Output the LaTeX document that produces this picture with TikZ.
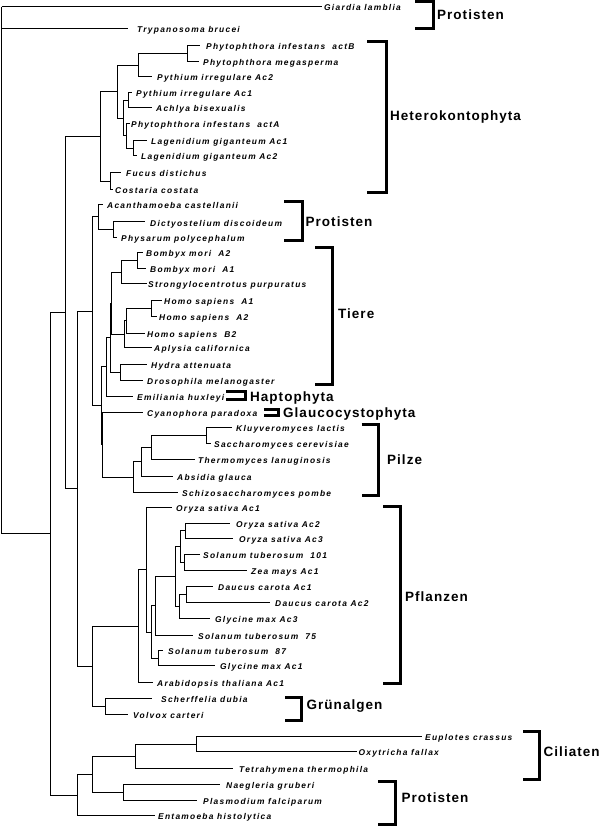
\documentclass[tikz,border=0pt]{standalone}
\usepackage{fontspec}
\setmainfont{Liberation Sans}
\newfontfamily\spfont[LetterSpace=15]{Liberation Sans}
\newfontfamily\grpfont[LetterSpace=7.5]{Liberation Sans}
\newcommand{\lf}[5]{\coordinate (L#1) at (#2,#4); \node[sp] (T#1) at (#3,#4+4) {#5};}
\begin{document}
\begin{tikzpicture}[x=1pt,y=-1pt,
  sp/.style={anchor=base west,inner sep=0pt,font=\fontsize{8.4}{9}\spfont\bfseries\itshape},
  grp/.style={anchor=base west,inner sep=0pt,font=\fontsize{13.5}{16}\grpfont\bfseries},
  br/.style={line width=1pt},
  brk/.style={line width=3pt,line join=miter}]
\fill[white] (0,0) rectangle (601,826);
\useasboundingbox (0,0) rectangle (601,826);
% internal nodes
\coordinate (root) at (1.5,7);
\coordinate (A) at (50,533);
\coordinate (B) at (65,312.8);
\coordinate (J) at (77,795);
\coordinate (G) at (100,136.75);
\coordinate (C) at (77,488.9);
\coordinate (H1) at (117,92);
\coordinate (FC) at (110,181.5);
\coordinate (P1) at (138,65.5);
\coordinate (PP) at (187,54);
\coordinate (H2) at (123.5,118.3);
\coordinate (PA) at (128.5,100.5);
\coordinate (AL) at (126.5,136);
\coordinate (LG) at (133.5,148.25);
\coordinate (D) at (92,311.3);
\coordinate (PG) at (92,666);
\coordinate (E) at (98,217);
\coordinate (DP) at (113,229.5);
\coordinate (F) at (101.5,405.6);
\coordinate (Tp) at (106,366.75);
\coordinate (F2) at (102.5,444.5);
\coordinate (TI1) at (110,337.5);
\coordinate (TI2) at (111,303);
\coordinate (BS) at (121.7,272);
\coordinate (BB) at (137.7,260);
\coordinate (HA1) at (124,334);
\coordinate (HAA) at (126,320.5);
\coordinate (HA) at (151.7,308);
\coordinate (HD) at (120,372.25);
\coordinate (PZ) at (133.3,477);
\coordinate (KSTA) at (141.7,461.5);
\coordinate (KST) at (151.7,447);
\coordinate (KS) at (206.7,435);
\coordinate (PF) at (138.3,626);
\coordinate (PF1) at (146.7,569.5);
\coordinate (N2) at (151.7,632);
\coordinate (N1) at (155,605.5);
\coordinate (OSZDG) at (175,576);
\coordinate (OSZ) at (180,546.25);
\coordinate (OA) at (185,530.5);
\coordinate (SZ) at (184.5,562.25);
\coordinate (DG) at (179.3,606);
\coordinate (DC) at (186.7,594.25);
\coordinate (SG) at (158.3,658);
\coordinate (SV) at (105,706);
\coordinate (K) at (92,774.5);
\coordinate (CIL) at (135,756.7);
\coordinate (EO) at (196.7,744.2);
\coordinate (NP) at (123.3,792.2);
% leaves
\lf{gia}{322}{324}{7}{Giardia lamblia}
\lf{try}{128}{137}{29}{Trypanosoma brucei}
\lf{actB}{200}{206}{46}{Phytophthora infestans~ actB}
\lf{mega}{199}{203}{62}{Phytophthora megasperma}
\lf{pyAc2}{152}{157}{77}{Pythium irregulare Ac2}
\lf{pyAc1}{132}{136}{93}{Pythium irregulare Ac1}
\lf{ach}{152}{156}{108}{Achlya bisexualis}
\lf{actA}{130}{131}{124}{Phytophthora infestans~ actA}
\lf{lag1}{147}{151}{140.5}{Lagenidium giganteum Ac1}
\lf{lag2}{137}{141}{156}{Lagenidium giganteum Ac2}
\lf{fuc}{121}{126}{173}{Fucus distichus}
\lf{cos}{113}{115}{190}{Costaria costata}
\lf{aca}{103}{107}{205}{Acanthamoeba castellanii}
\lf{dic}{145}{150}{222}{Dictyostelium discoideum}
\lf{phy}{117}{121}{237}{Physarum polycephalum}
\lf{bomA2}{143}{146}{252}{Bombyx mori~ A2}
\lf{bomA1}{146}{150}{268}{Bombyx mori~ A1}
\lf{str}{147}{148}{283}{Strongylocentrotus purpuratus}
\lf{homA1}{162}{164}{300}{Homo sapiens~ A1}
\lf{homA2}{157}{159}{316}{Homo sapiens~ A2}
\lf{homB2}{145}{147}{333}{Homo sapiens~ B2}
\lf{apl}{152}{154}{347.5}{Aplysia californica}
\lf{hyd}{146.7}{151}{364.5}{Hydra attenuata}
\lf{dro}{143}{147}{380}{Drosophila melanogaster}
\lf{emi}{133.3}{137}{396}{Emiliania huxleyi}
\lf{cya}{143.3}{147}{412}{Cyanophora paradoxa}
\lf{klu}{232}{236}{427}{Kluyveromyces lactis}
\lf{sac}{210.5}{214}{443}{Saccharomyces cerevisiae}
\lf{the}{195}{198}{459}{Thermomyces lanuginosis}
\lf{abs}{173}{177}{476}{Absidia glauca}
\lf{sch}{178}{182}{492}{Schizosaccharomyces pombe}
\lf{ory1}{171.7}{176}{507}{Oryza sativa Ac1}
\lf{ory2}{230}{236}{523}{Oryza sativa Ac2}
\lf{ory3}{233}{239}{538}{Oryza sativa Ac3}
\lf{solA}{200}{203}{554}{Solanum tuberosum~ 101}
\lf{zea}{246.7}{251}{570.5}{Zea mays Ac1}
\lf{dau1}{213}{218}{586.5}{Daucus carota Ac1}
\lf{dau2}{270}{275}{602}{Daucus carota Ac2}
\lf{gly3}{210}{215}{618}{Glycine max Ac3}
\lf{solB}{193}{198}{635}{Solanum tuberosum~ 75}
\lf{solC}{163}{168}{650.5}{Solanum tuberosum~ 87}
\lf{gly1}{215}{220}{665.5}{Glycine max Ac1}
\lf{ara}{153}{157}{682}{Arabidopsis thaliana Ac1}
\lf{sche}{152}{161}{698}{Scherffelia dubia}
\lf{vol}{128.3}{133}{714}{Volvox carteri}
\lf{eup}{421.7}{425}{736.7}{Euplotes crassus}
\lf{oxy}{356.7}{358.5}{751.7}{Oxytricha fallax}
\lf{tet}{233}{239}{768}{Tetrahymena thermophila}
\lf{nae}{220}{226}{784.3}{Naegleria gruberi}
\lf{pla}{196.7}{203}{800}{Plasmodium falciparum}
\lf{ent}{155}{158}{815.5}{Entamoeba histolytica}
% branches
\foreach \p/\c in {root/Lgia,root/Ltry,root/A,A/B,A/J,B/G,B/C,G/H1,G/FC,
  H1/P1,H1/H2,P1/PP,P1/LpyAc2,PP/LactB,PP/Lmega,H2/PA,H2/AL,PA/LpyAc1,PA/Lach,
  AL/LactA,AL/LG,LG/Llag1,LG/Llag2,FC/Lfuc,FC/Lcos,C/D,C/PG,D/E,D/F,E/Laca,E/DP,
  DP/Ldic,DP/Lphy,F/Tp,F/F2,Tp/TI1,Tp/Lemi,TI1/TI2,TI1/HD,TI2/BS,TI2/HA1,BS/BB,BS/Lstr,
  BB/LbomA2,BB/LbomA1,HA1/HAA,HA1/Lapl,HAA/HA,HAA/LhomB2,HA/LhomA1,HA/LhomA2,
  HD/Lhyd,HD/Ldro,F2/Lcya,F2/PZ,PZ/KSTA,PZ/Lsch,KSTA/KST,KSTA/Labs,KST/KS,KST/Lthe,
  KS/Lklu,KS/Lsac,PG/PF,PG/SV,PF/PF1,PF/Lara,PF1/Lory1,PF1/N2,N2/N1,N2/SG,
  N1/OSZDG,N1/LsolB,OSZDG/OSZ,OSZDG/DG,OSZ/OA,OSZ/SZ,OA/Lory2,OA/Lory3,SZ/LsolA,SZ/Lzea,
  DG/DC,DG/Lgly3,DC/Ldau1,DC/Ldau2,SG/LsolC,SG/Lgly1,SV/Lsche,SV/Lvol,
  J/K,J/Lent,K/CIL,K/NP,CIL/EO,CIL/Ltet,EO/Leup,EO/Loxy,NP/Lnae,NP/Lpla}
  \draw[br] (\p) |- (\c);
% group brackets and labels
\draw[brk] (415,1.5) -| (433,29) -- (415,29);
\node[grp] (g1) at (437,15+4.8) {Protisten};
\draw[brk] (367,42) -| (386,192.5) -- (367,192.5);
\node[grp] (g2) at (390,116+4.8) {Heterokontophyta};
\draw[brk] (284,201.5) -| (302,240) -- (284,240);
\node[grp] (g3) at (305.5,221.7+4.8) {Protisten};
\draw[brk] (315,247.5) -| (332.5,384.5) -- (315,384.5);
\node[grp] (g4) at (338,314+4.8) {Tiere};
\draw[brk] (226,391.5) -| (245,399) -- (226,399);
\node[grp] (g5) at (250,397+4.8) {Haptophyta};
\draw[brk] (264,409.5) -| (278.5,415) -- (264,415);
\node[grp] (g6) at (283,413+4.8) {Glaucocystophyta};
\draw[brk] (361.7,424) -| (378,495) -- (361.7,495);
\node[grp] (g7) at (387,460+4.8) {Pilze};
\draw[brk] (383,506.5) -| (400.5,683.5) -- (383,683.5);
\node[grp] (g8) at (405,597+4.8) {Pflanzen};
\draw[brk] (285,697) -| (301,720) -- (285,720);
\node[grp] (g9) at (306.5,705+4.8) {Grünalgen};
\draw[brk] (523,731) -| (539.5,779.5) -- (523,779.5);
\node[grp] (g10) at (543.5,751.7+4.8) {Ciliaten};
\draw[brk] (378,781.5) -| (395.5,824.5) -- (378,824.5);
\node[grp] (g11) at (401.5,798+4.8) {Protisten};
\end{tikzpicture}
\end{document}
